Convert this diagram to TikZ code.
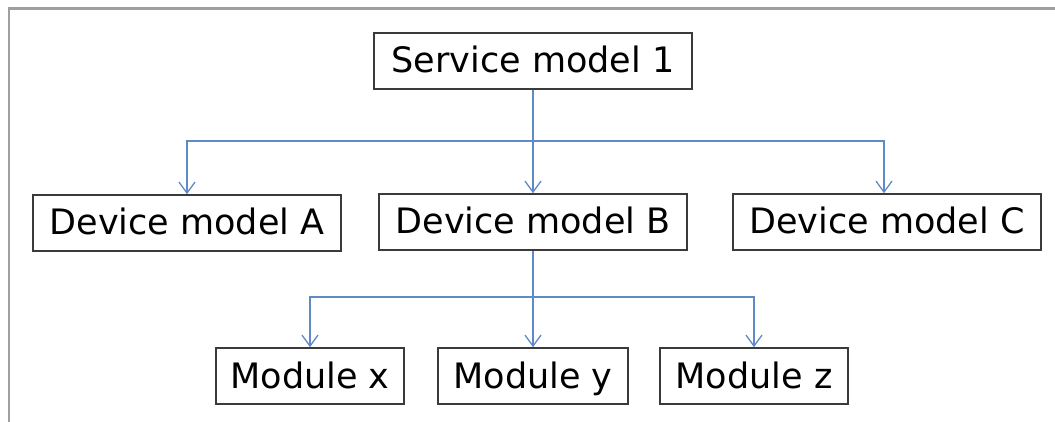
\documentclass[tikz,border=0pt]{standalone}
\usepackage{fontspec}
\setmainfont{DejaVu Sans}
\usetikzlibrary{arrows.meta}
\definecolor{connblue}{HTML}{5F8AC7}
\definecolor{boxline}{HTML}{3A3A3A}
\tikzset{
  box/.style={draw=boxline, line width=1.6pt, fill=white, inner sep=0pt, minimum height=56pt,
              text height=32pt, text depth=8pt,
              font=\fontsize{35}{40}\selectfont, text=black},
  conn/.style={draw=connblue, line width=1.5pt, -{Straight Barb[length=11pt,width=16pt,line width=1.3pt]}},
  plain/.style={draw=connblue, line width=1.5pt},
  frame/.style={draw=gray!75, line width=2.2pt}
}
\begin{document}
\begin{tikzpicture}[x=1pt,y=-1pt]
\useasboundingbox (0,0) rectangle (1055,422);
\draw[frame] (9,430) -- (9,8.5) -- (1065,8.5);
\node[box, minimum width=318pt] (s) at (533,61) {Service model 1};
\node[box, minimum width=308pt] (a) at (187,223) {Device model A};
\node[box, minimum width=308pt] (b) at (533,222) {Device model B};
\node[box, minimum width=308pt] (c) at (887,222) {Device model C};
\node[box, minimum width=188pt] (x) at (310,376) {Module x};
\node[box, minimum width=190pt] (y) at (533,376) {Module y};
\node[box, minimum width=188pt] (z) at (754,376) {Module z};
\coordinate (j1) at (533,141);
\coordinate (j2) at (533,297);
\draw[plain] (s.south) -- (j1);
\draw[conn] (j1) -| (a.north);
\draw[conn] (j1) -- (b.north);
\draw[conn] (j1) -| ([xshift=-3pt]c.north);
\draw[plain] (b.south) -- (j2);
\draw[conn] (j2) -| (x.north);
\draw[conn] (j2) -- (y.north);
\draw[conn] (j2) -| (z.north);
\end{tikzpicture}
\end{document}
